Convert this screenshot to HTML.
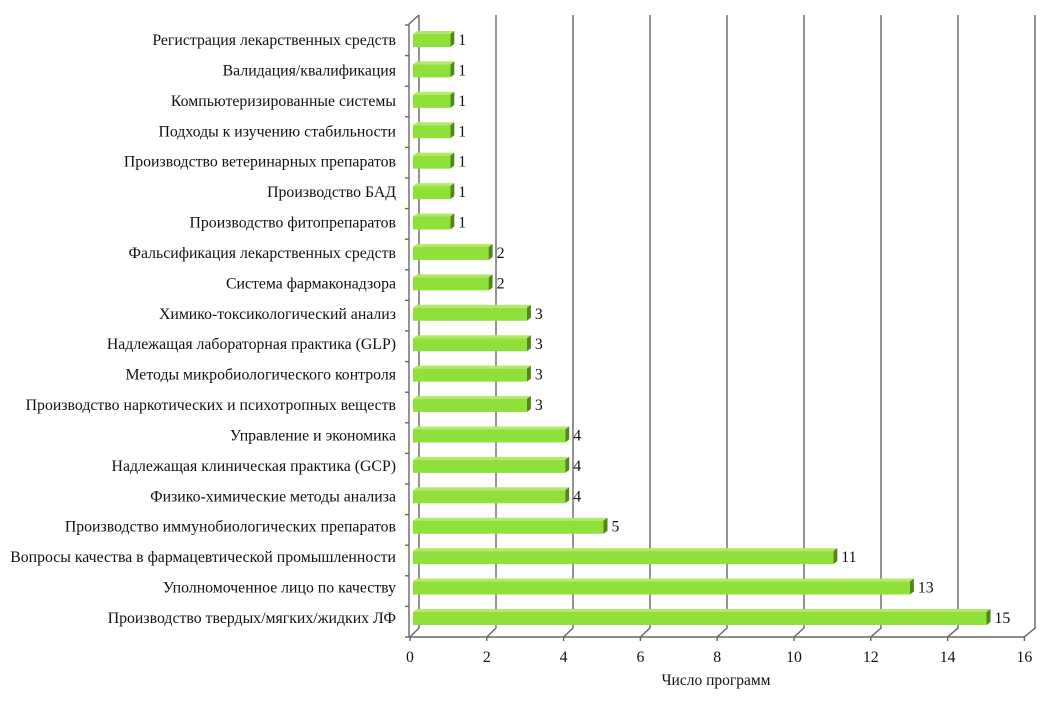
<!DOCTYPE html>
<html><head><meta charset="utf-8"><style>
body{margin:0;background:#fff}
svg text{font-family:"Liberation Serif",serif;fill:#111}
</style></head><body>
<svg width="1063" height="707" xmlns="http://www.w3.org/2000/svg">
<g id="grid" stroke="#666" stroke-width="1.4" fill="none"></g>
<g id="bars"></g>
<g id="labels" font-size="15.8"></g>
<text x="716" y="685" font-size="15.5" text-anchor="middle">Число программ</text>
</svg>
<script>
const ns="http://www.w3.org/2000/svg";
function el(p,t,a,txt){const e=document.createElementNS(ns,t);for(const k in a)e.setAttribute(k,a[k]);if(txt!==undefined)e.textContent=txt;document.getElementById(p).appendChild(e);return e;}
const cats=[["Регистрация лекарственных средств",1],["Валидация/квалификация",1],["Компьютеризированные системы",1],["Подходы к изучению стабильности",1],["Производство ветеринарных препаратов",1],["Производство БАД",1],["Производство фитопрепаратов",1],["Фальсификация лекарственных средств",2],["Система фармаконадзора",2],["Химико-токсикологический анализ",3],["Надлежащая лабораторная практика (GLP)",3],["Методы микробиологического контроля",3],["Производство наркотических и психотропных веществ",3],["Управление и экономика",4],["Надлежащая клиническая практика (GCP)",4],["Физико-химические методы анализа",4],["Производство иммунобиологических препаратов",5],["Вопросы качества в фармацевтической промышленности",11],["Уполномоченное лицо по качеству",13],["Производство твердых/мягких/жидких ЛФ",15]];
for(let k=0;k<=8;k++){const bx=419+38.5*2*k, fx=410+38.4*2*k;
 el("grid","polyline",{points:`${bx},15 ${bx},628 ${fx},637 ${fx},641`});
 el("labels","text",{x:fx,y:662,"text-anchor":"middle"},String(2*k));}
el("grid","line",{x1:409,y1:637,x2:1025,y2:637});
el("grid","polyline",{points:"419,15 409,24 409,637"});
for(let i=0;i<=20;i++){el("grid","line",{x1:405,y1:25+i*30.6,x2:409,y2:25+i*30.6});}
cats.forEach((c,i)=>{const cy=40+i*30.42, v=c[1], x0=413, x1=412+38.3*v;
 el("bars","polygon",{points:`${x0},${cy-6} ${x0+4},${cy-9} ${x1+4},${cy-9} ${x1},${cy-6}`,fill:"#b5e86a"});
 el("bars","polygon",{points:`${x1},${cy-6} ${x1+4},${cy-9} ${x1+4},${cy+4} ${x1},${cy+7}`,fill:"#4e8a12"});
 el("bars","rect",{x:x0,y:cy-6,width:x1-x0,height:13,fill:"#8fe03a"});
 el("labels","text",{x:396,y:cy+5,"text-anchor":"end"},c[0]);
 el("labels","text",{x:x1+8,y:cy+5},String(v));
});
</script>
</body></html>
